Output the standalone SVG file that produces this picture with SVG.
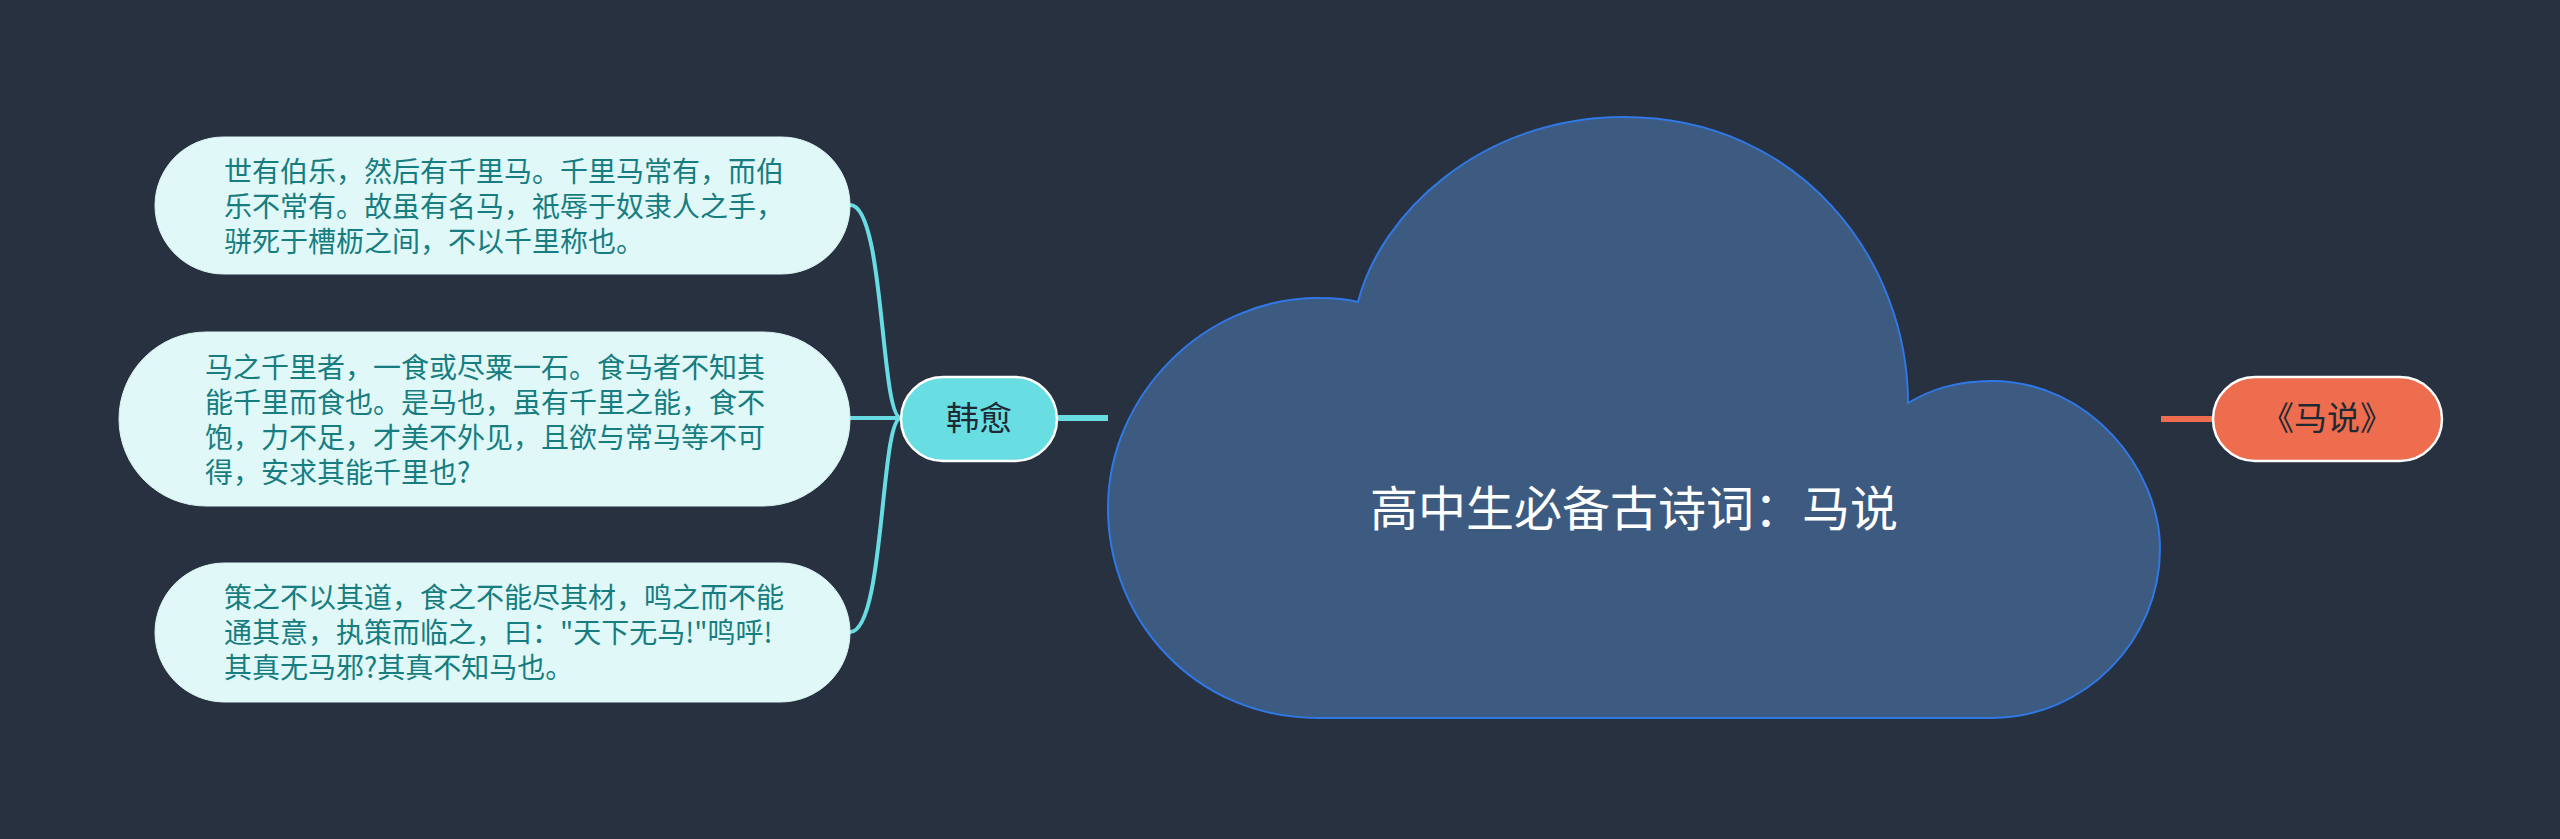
<svg xmlns="http://www.w3.org/2000/svg" width="2560" height="839" viewBox="0 0 2560 839">
<style>
.bg{fill:#273140}
.leaf{fill:#E0F8F8;stroke:#DDF5F5;stroke-width:1}
.leaft{font-family:"Noto Sans CJK SC","Noto Sans",sans-serif;font-size:28px;fill:#177D80}
.conn{fill:none;stroke:#67DDE3;stroke-width:4}
.main{fill:#68DEE3;stroke:#FFFFFF;stroke-width:2.5}
.maint{font-family:"Noto Sans CJK SC","Noto Sans",sans-serif;font-size:33px;fill:#1E2A33;text-anchor:middle}
.orange{fill:#EE6D4E;stroke:#FFFFFF;stroke-width:2.5}
.cloud{fill:#3D5A80;stroke:#2F78E6;stroke-width:2}
.title{font-family:"Noto Sans CJK SC","Noto Sans",sans-serif;font-size:48px;fill:#FFFFFF;text-anchor:middle}
</style>
<rect class="bg" x="0" y="0" width="2560" height="839"/>
<g id="connectors">
<path class="conn" d="M 901,418 C 880,418 885,205 850,205"/>
<path class="conn" d="M 901,418 L 850,418"/>
<path class="conn" d="M 901,418 C 880,418 885,632 850,632"/>
<path fill="none" stroke="#67DDE3" stroke-width="6" d="M 1057,418 L 1108,418"/>
<path fill="none" stroke="#EE6D4E" stroke-width="6" d="M 2161,419 L 2213,419"/>
</g>
<g id="root">
<path class="cloud" d="M 1318,718 C 1195,718 1108,620 1108,508 C 1108,395 1205,298 1318,298 C 1335,298 1347,299 1358,302 C 1380,215 1480,117 1624,117 C 1800,117 1908,260 1908,403 C 1930,390 1955,381 1992,381 C 2090,381 2160,470 2160,549 C 2160,640 2085,718 1992,718 L 1318,718 Z"/>
<text class="title" x="1634" y="526">高中生必备古诗词：马说</text>
</g>
<g id="node-hanyu">
<rect class="main" x="901" y="377" width="156" height="84" rx="42"/>
<text class="maint" x="979" y="430">韩愈</text>
</g>
<g id="node-mashuo">
<rect class="orange" x="2213" y="377" width="229" height="84" rx="42"/>
<text class="maint" x="2327" y="430">《马说》</text>
</g>
<g id="leaf-1">
<rect class="leaf" x="155" y="137" width="695" height="137" rx="68.5"/>
<text class="leaft"><tspan x="224" y="182">世有伯乐，然后有千里马。千里马常有，而伯</tspan><tspan x="224" y="217">乐不常有。故虽有名马，祇辱于奴隶人之手，</tspan><tspan x="224" y="252">骈死于槽枥之间，不以千里称也。</tspan></text>
</g>
<g id="leaf-2">
<rect class="leaf" x="119" y="332" width="731" height="174" rx="87"/>
<text class="leaft"><tspan x="205" y="377.5">马之千里者，一食或尽粟一石。食马者不知其</tspan><tspan x="205" y="412.5">能千里而食也。是马也，虽有千里之能，食不</tspan><tspan x="205" y="447.5">饱，力不足，才美不外见，且欲与常马等不可</tspan><tspan x="205" y="482.5">得，安求其能千里也?</tspan></text>
</g>
<g id="leaf-3">
<rect class="leaf" x="155" y="563" width="695" height="139" rx="69.5"/>
<text class="leaft"><tspan x="224" y="608">策之不以其道，食之不能尽其材，鸣之而不能</tspan><tspan x="224" y="643">通其意，执策而临之，曰："天下无马!"鸣呼!</tspan><tspan x="224" y="678">其真无马邪?其真不知马也。</tspan></text>
</g>
</svg>
